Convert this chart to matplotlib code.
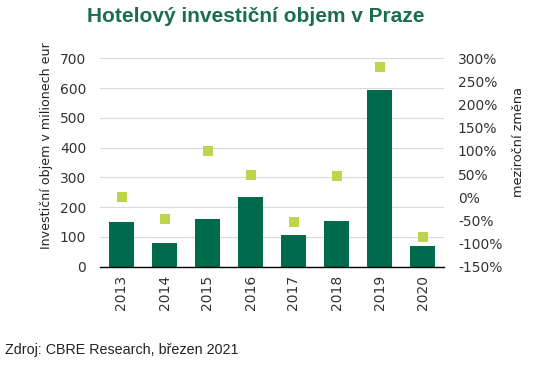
import matplotlib
matplotlib.use('Agg')
import matplotlib.pyplot as plt
from matplotlib.ticker import FuncFormatter

# Data
roky = ['2013', '2014', '2015', '2016', '2017', '2018', '2019', '2020']
objem = [151, 81, 160, 235, 107, 154, 594, 70]          # mil. EUR
zmena = [0, -46, 100, 47, -53, 45, 282, -86]            # meziroční změna v %

zelena = '#006b4c'
limetka = '#bcd54a'
font_os = 'DejaVu Sans'

fig = plt.figure(figsize=(5.41, 3.69), dpi=100)
ax = fig.add_axes([100 / 541, 1 - 266.7 / 369, 344 / 541, 208.4 / 369])

x = range(len(roky))
ax.bar(x, objem, width=0.56, color=zelena, zorder=2)
ax.set_ylim(0, 700)
ax.set_xlim(-0.5, len(roky) - 0.5)
ax.set_yticks(range(0, 701, 100))
ax.grid(axis='y', color='#d9d9d9', linewidth=0.8, zorder=0)
ax.set_xticks(list(x))
ax.set_xticklabels(roky, rotation=90, fontsize=10, family=font_os, color='#333333')
ax.tick_params(axis='y', labelsize=10, colors='#333333', length=0, pad=10)
ax.tick_params(axis='x', length=0, pad=6)
for s in ['top', 'right', 'left']:
    ax.spines[s].set_visible(False)
ax.spines['bottom'].set_color('black')
ax.spines['bottom'].set_linewidth(1.0)
ax.set_ylabel('Investiční objem v milionech eur', fontsize=9.1, family=font_os,
              color='#222222', labelpad=5)
ax.yaxis.label.set_y(0.58)  # popisek je v originálu posunutý nahoru

ax2 = ax.twinx()
ax2.scatter(list(x), zmena, marker='s', s=52, color=limetka, zorder=3, linewidths=0)
ax2.set_ylim(-150, 300)
ax2.set_yticks(range(-150, 301, 50))
ax2.yaxis.set_major_formatter(FuncFormatter(lambda v, p: f'{int(v)}%'))
ax2.tick_params(axis='y', labelsize=10, colors='#333333', length=0, pad=10)
for s in ['top', 'right', 'left', 'bottom']:
    ax2.spines[s].set_visible(False)
ax2.set_ylabel('meziroční změna', fontsize=9.3, family=font_os, color='#222222', labelpad=7)
ax2.yaxis.label.set_y(0.60)

fig.text(256 / 541, 1 - 17 / 369, 'Hotelový investiční objem v Praze', ha='center', va='center',
         fontsize=15, fontweight='bold', color='#1a6e4e', family='Liberation Sans')
fig.text(5 / 541, 1 - 350 / 369, 'Zdroj: CBRE Research, březen 2021', ha='left', va='center',
         fontsize=10.3, color='#222222', family='Liberation Sans')

fig.savefig('out.png', dpi=100)
